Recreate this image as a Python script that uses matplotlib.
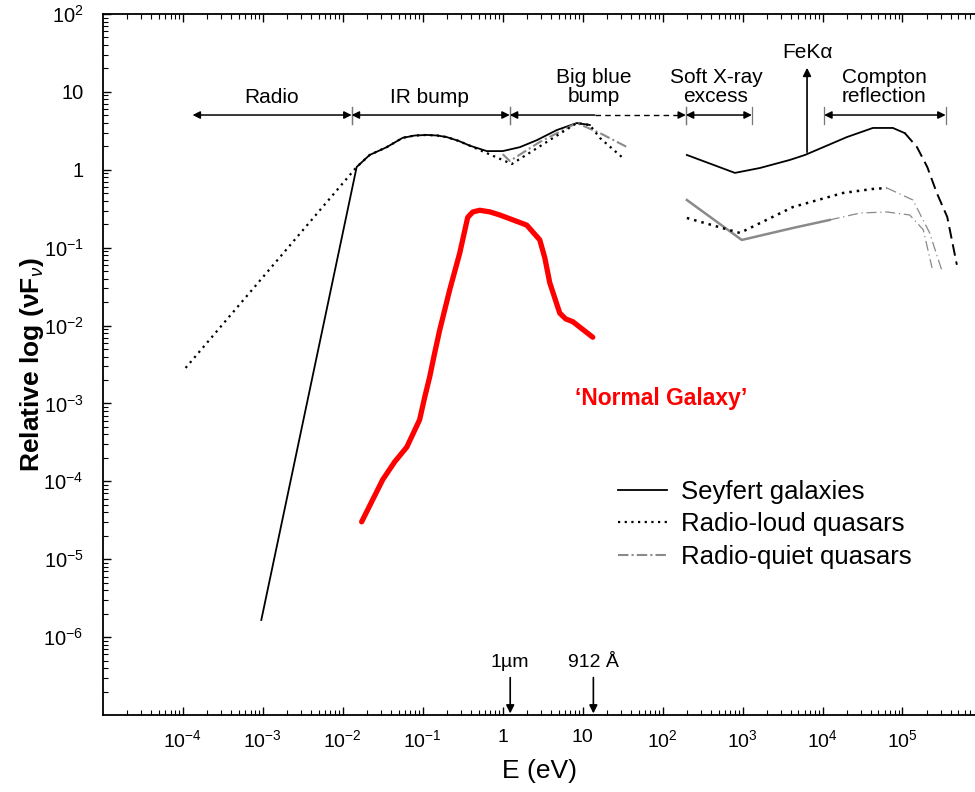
import numpy as np
import matplotlib.pyplot as plt
from matplotlib.ticker import FixedLocator, FixedFormatter, LogLocator, NullFormatter

plt.rcParams['font.family'] = ['Liberation Sans', 'DejaVu Sans']
plt.rcParams['mathtext.fontset'] = 'custom'
plt.rcParams['mathtext.rm'] = 'Liberation Sans'
plt.rcParams['mathtext.it'] = 'Liberation Sans:italic'
plt.rcParams['mathtext.bf'] = 'Liberation Sans:bold'

# values, as log10(E / eV) and log10(relative nuFnu)
seyfert_logE = [-3.02, -1.827, -1.665, -1.452, -1.252, -1.1, -0.951, -0.82, -0.701,
                -0.55, -0.413, -0.200, 0.0, 0.213, 0.426, 0.676, 0.926, 1.089]
seyfert_logF = [-5.78, 0.036, 0.19, 0.29, 0.41, 0.44, 0.447, 0.44, 0.42,
                0.37, 0.31, 0.24, 0.24, 0.29, 0.38, 0.51, 0.60, 0.575]
seyfert_x_logE = [2.303, 2.904, 3.217, 3.59, 3.78, 3.867, 4.305, 4.63, 4.88, 5.03]
seyfert_x_logF = [0.19, -0.04, 0.023, 0.126, 0.19, 0.228, 0.42, 0.537, 0.537, 0.47]
seyfert_tail_logE = [5.03, 5.18, 5.31, 5.43, 5.56, 5.68]
seyfert_tail_logF = [0.47, 0.293, 0.036, -0.30, -0.606, -1.22]

loud_logE = [-3.967, -1.827, -1.665, -1.452, -1.252, -1.1, -0.951, -0.82, -0.701,
             -0.55, -0.413, 0.113, 0.926, 1.089, 1.214, 1.489]
loud_logF = [-2.544, 0.036, 0.19, 0.29, 0.41, 0.44, 0.447, 0.44, 0.42,
             0.37, 0.31, 0.074, 0.60, 0.575, 0.41, 0.164]
loud_x_logE = [2.303, 2.966, 3.63, 4.255, 4.63, 4.806]
loud_x_logF = [-0.619, -0.811, -0.478, -0.298, -0.246, -0.234]
loud_tail_logE = [4.806, 5.13, 5.34, 5.49]
loud_tail_logF = [-0.234, -0.388, -0.811, -1.286]

quiet_logE = [0.0, 0.088, 0.463, 0.926, 1.214, 1.552]
quiet_logF = [0.2, 0.113, 0.357, 0.60, 0.472, 0.293]
quiet_x_logE = [2.303, 2.99, 3.63, 4.09]
quiet_x_logF = [-0.388, -0.901, -0.747, -0.644]
quiet_tail_logE = [4.09, 4.47, 4.806, 5.09, 5.26, 5.37]
quiet_tail_logF = [-0.644, -0.555, -0.542, -0.58, -0.77, -1.26]

galaxy_logE = [-1.765, -1.502, -1.352, -1.20, -1.04, -0.976, -0.914, -0.851, -0.789,
               -0.663, -0.538, -0.438, -0.375, -0.288, -0.163, -0.038, 0.300, 0.463,
               0.526, 0.588, 0.713, 0.788, 0.876, 1.126]
galaxy_logF = [-4.52, -3.98, -3.75, -3.56, -3.21, -2.92, -2.66, -2.35, -2.06,
               -1.54, -1.07, -0.61, -0.542, -0.52, -0.54, -0.58, -0.71, -0.90,
               -1.13, -1.45, -1.84, -1.915, -1.95, -2.15]

feka_E = 6.4e3
feka_base, feka_top = 10**0.19, 10**1.345

# spectral bands (edges in eV)
band_names = ['Radio', 'IR bump', 'Big blue\nbump', 'Soft X-ray\nexcess', 'Compton\nreflection']
band_lo = [10**-3.88, 10**-1.89, 10**0.088, 10**2.29, 10**4.02]
band_hi = [10**-1.89, 10**0.088, 10**2.29, 10**3.116, 10**5.54]
band_label_x = [10**-2.89, 10**-0.914, 10**1.139, 10**2.666, 10**4.77]
bbb_solid_end = 10**1.15

xticks = [1e-4, 1e-3, 1e-2, 1e-1, 1, 10, 1e2, 1e3, 1e4, 1e5]
xticklabels = ['$10^{-4}$', '$10^{-3}$', '$10^{-2}$', '$10^{-1}$', '1', '10',
               '$10^{2}$', '$10^{3}$', '$10^{4}$', '$10^{5}$']
yticks = [1e2, 10, 1, 1e-1, 1e-2, 1e-3, 1e-4, 1e-5, 1e-6]
yticklabels = ['$10^{2}$', '10', '1', '$10^{-1}$', '$10^{-2}$', '$10^{-3}$',
               '$10^{-4}$', '$10^{-5}$', '$10^{-6}$']

p = lambda a: 10**np.asarray(a)

fig = plt.figure(figsize=(9.75, 7.92), dpi=100)
ax = fig.add_axes([103/975, 77/792, 872/975, 701/792])
ax.set_xscale('log')
ax.set_yscale('log')
ax.set_xlim(1e-5, 10**5.907)
ax.set_ylim(1e-7, 1e2)

grey = '#8a8a8a'
# Seyfert galaxies
ax.plot(p(seyfert_logE), p(seyfert_logF), color='k', lw=1.3, label='Seyfert galaxies')
ax.plot(p(seyfert_x_logE), p(seyfert_x_logF), color='k', lw=1.3)
ax.plot(p(seyfert_tail_logE), p(seyfert_tail_logF), color='k', lw=1.4, ls=(0, (6, 3)))
# radio-quiet quasars
ax.plot(p(quiet_logE), p(quiet_logF), color=grey, lw=1.5, ls=(0, (5, 1.5, 1, 1.5)),
        label='Radio-quiet quasars')
ax.plot(p(quiet_x_logE), p(quiet_x_logF), color=grey, lw=1.8)
ax.plot(p(quiet_tail_logE), p(quiet_tail_logF), color=grey, lw=0.9, ls=(0, (8, 3, 1, 3)))
# radio-loud quasars
ax.plot(p(loud_logE), p(loud_logF), color='k', lw=1.6, ls=(0, (1, 2)),
        label='Radio-loud quasars')
ax.plot(p(loud_x_logE), p(loud_x_logF), color='k', lw=1.8, ls=(0, (1, 2)))
ax.plot(p(loud_tail_logE), p(loud_tail_logF), color=grey, lw=0.9, ls=(0, (8, 3, 1, 3)))
# normal galaxy
ax.plot(p(galaxy_logE), p(galaxy_logF), color='#ff0000', lw=3.8,
        solid_capstyle='round', solid_joinstyle='round')

# Fe K alpha line
ax.annotate('', xy=(feka_E, feka_top), xytext=(feka_E, feka_base),
            arrowprops=dict(arrowstyle='-|>', color='k', lw=1.2, mutation_scale=12))
ax.text(feka_E, 10**1.51, 'FeK\u03b1', ha='center', va='center', fontsize=15)

# band arrows
arr_y = 10**0.703
tick_lo, tick_hi = 10**0.588, 10**0.806
for i, (name, lo, hi, lx) in enumerate(zip(band_names, band_lo, band_hi, band_label_x)):
    if i == 2:
        ax.annotate('', xy=(lo, arr_y), xytext=(bbb_solid_end, arr_y),
                    arrowprops=dict(arrowstyle='-|>', color='k', lw=1.1, mutation_scale=11,
                                    shrinkA=0, shrinkB=0))
        ax.plot([bbb_solid_end, hi / 1.1], [arr_y, arr_y], color='k', lw=1.0, ls=(0, (4, 3)))
        ax.annotate('', xy=(hi, arr_y), xytext=(hi / 1.15, arr_y),
                    arrowprops=dict(arrowstyle='-|>', color='k', lw=1.0, mutation_scale=11,
                                    shrinkA=0, shrinkB=0))
    else:
        ax.annotate('', xy=(hi, arr_y), xytext=(lo, arr_y),
                    arrowprops=dict(arrowstyle='<|-|>', color='k', lw=1.1, mutation_scale=11,
                                    shrinkA=0, shrinkB=0))
    for e in (lo, hi):
        if i == 0 and e == lo:
            continue
        ax.plot([e, e], [tick_lo, tick_hi], color='#777777', lw=0.9)
    ytxt = 10**0.934 if '\n' not in name else 10**1.063
    ax.text(lx, ytxt, name, ha='center', va='center', fontsize=15, linespacing=1.0)

# wavelength markers
for e, lab in [(1.24, '1\u00b5m'), (13.6, '912 \u00c5')]:
    ax.annotate('', xy=(e, 10**-6.98), xytext=(e, 10**-6.52),
                arrowprops=dict(arrowstyle='-|>', color='k', lw=1.2, mutation_scale=12,
                                shrinkA=0, shrinkB=0))
    ax.text(e, 10**-6.32, lab, ha='center', va='center', fontsize=14)

ax.text(10**1.98, 10**-2.94, '\u2018Normal Galaxy\u2019', color='#ff0000',
        fontsize=16.5, fontweight='bold', ha='center', va='center')

# axes styling
ax.spines['right'].set_visible(False)
for s in ['left', 'bottom', 'top']:
    ax.spines[s].set_linewidth(1.3)
ax.xaxis.set_major_locator(FixedLocator(xticks))
ax.xaxis.set_major_formatter(FixedFormatter(xticklabels))
ax.yaxis.set_major_locator(FixedLocator(yticks))
ax.yaxis.set_major_formatter(FixedFormatter(yticklabels))
ax.xaxis.set_minor_locator(LogLocator(base=10, subs=np.arange(2, 10), numticks=30))
ax.yaxis.set_minor_locator(LogLocator(base=10, subs=np.arange(2, 10), numticks=30))
ax.xaxis.set_minor_formatter(NullFormatter())
ax.yaxis.set_minor_formatter(NullFormatter())
ax.tick_params(which='both', direction='in', top=True, right=False)
ax.tick_params(which='major', length=6, width=1.0)
ax.tick_params(which='minor', length=3.5, width=0.8)
ax.tick_params(axis='x', which='major', labelsize=14, pad=10)
ax.tick_params(axis='y', which='major', labelsize=14.5, pad=14)

ax.set_xlabel('E (eV)', fontsize=19, labelpad=6)
ax.set_ylabel('Relative log (\u03bdF$_{\u03bd}$)', fontsize=19, fontweight='bold', labelpad=-2)

h, l = ax.get_legend_handles_labels()
order = [l.index('Seyfert galaxies'), l.index('Radio-loud quasars'), l.index('Radio-quiet quasars')]
ax.legend([h[i] for i in order], [l[i] for i in order], loc='upper left',
          bbox_to_anchor=(618/975, 1 - 480/792), bbox_transform=fig.transFigure,
          frameon=False, fontsize=18.5, handlelength=1.9, handletextpad=0.55,
          labelspacing=0.33, borderpad=0, borderaxespad=0)

fig.savefig('out.png', dpi=100)
